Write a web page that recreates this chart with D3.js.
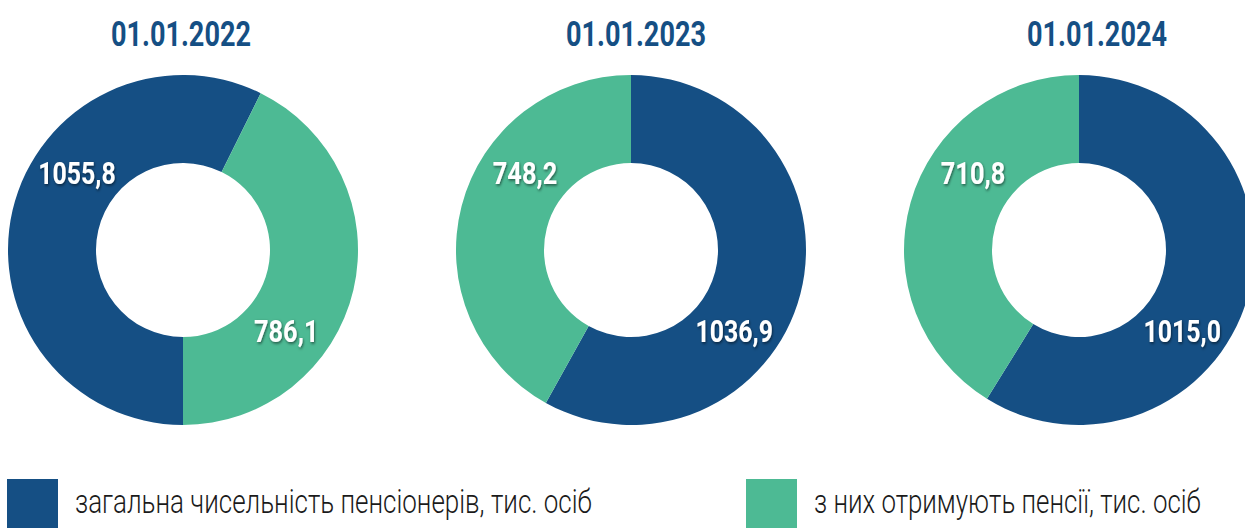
<!DOCTYPE html>
<html>
<head>
<meta charset="utf-8">
<script src="https://cdn.jsdelivr.net/npm/d3@7"></script>
<style>
  html, body { margin: 0; padding: 0; background: #fff; }
  svg { display: block; }
</style>
</head>
<body>
<svg id="chart" width="1245" height="528"></svg>
<script>
// --- Data ---
const DATES = ["01.01.2022", "01.01.2023", "01.01.2024"];
const TOTAL = [1055.8, 1036.9, 1015.0];      // загальна чисельність
const RECEIVING = [786.1, 748.2, 710.8];     // з них отримують пенсії
const SERIES = [
  "загальна чисельність пенсіонерів, тис. осіб",
  "з них отримують пенсії, тис. осіб"
];

// --- Layout ---
const W = 1245, H = 528;
const BLUE = "#154f84";
const GREEN = "#4dba94";
const COLORS = [BLUE, GREEN];
const START_DEG = [180, 0, 0];          // where each donut starts
const TITLE_SHIFT = [-2, 5, 18];
const rOuter = 175, rInner = 87, rLabel = 131;
const cy = 250;
const LABEL_ANGLES = [306, 128];        // upper-left / lower-right slots
const FONT = "Roboto, 'Liberation Sans', sans-serif";

const svg = d3.select("#chart").attr("viewBox", `0 0 ${W} ${H}`);

const defs = svg.append("defs");
defs.append("filter").attr("id", "shadow")
  .attr("x", "-20%").attr("y", "-30%").attr("width", "140%").attr("height", "160%")
  .append("feDropShadow")
  .attr("dx", 1).attr("dy", 1.5).attr("stdDeviation", 1.6)
  .attr("flood-color", "#000").attr("flood-opacity", 0.55);

// squeeze a text horizontally to a target width (condensed look)
function condense(sel, px, py, width) {
  sel.attr("x", 0).attr("y", 0);
  const natural = sel.node().getComputedTextLength();
  const s = width / natural;
  sel.attr("transform", `translate(${px}, ${py}) scale(${s}, 1)`);
}

const x = d3.scalePoint().domain(DATES).range([183, 1079]);
const fmt = v => d3.format(".1f")(v).replace(".", ",");
const rad = deg => deg * Math.PI / 180;

const arcGen = d3.arc().innerRadius(rInner).outerRadius(rOuter);

DATES.forEach((date, i) => {
  const cx = x(date);
  const values = [TOTAL[i], RECEIVING[i]];
  const start = rad(START_DEG[i]);
  const pie = d3.pie().sort(null).value(d => d)
    .startAngle(start).endAngle(start + 2 * Math.PI);
  const slices = pie(values);

  const g = svg.append("g").attr("transform", `translate(${cx}, ${cy})`);

  g.selectAll("path")
    .data(slices).join("path")
    .attr("d", arcGen)
    .attr("fill", (d, j) => COLORS[j]);

  // labels: each value goes in the slot closest to its slice's centroid angle
  g.selectAll("text.val")
    .data(slices).join("text")
    .attr("class", "val")
    .attr("text-anchor", "middle")
    .attr("font-family", FONT)
    .attr("font-weight", 700)
    .attr("font-size", 31)
    .attr("fill", "#fff")
    .attr("filter", "url(#shadow)")
    .text(d => fmt(d.value))
    .each(function(d) {
      const mid = ((d.startAngle + d.endAngle) / 2) * 180 / Math.PI % 360;
      const dist = a => Math.min(Math.abs(mid - a), 360 - Math.abs(mid - a));
      const slot = dist(LABEL_ANGLES[0]) < dist(LABEL_ANGLES[1]) ? LABEL_ANGLES[0] : LABEL_ANGLES[1];
      const a = rad(slot);
      condense(d3.select(this), rLabel * Math.sin(a), -rLabel * Math.cos(a) + 11,
        fmt(d.value).length * 12.9);
    });

  const title = svg.append("text")
    .attr("text-anchor", "middle")
    .attr("font-family", FONT)
    .attr("font-weight", 700)
    .attr("font-size", 36)
    .attr("fill", BLUE)
    .text(date);
  condense(title, cx + TITLE_SHIFT[i], 46, 140);
});

// --- Legend ---
const LEGEND_X = [7, 746];
const LEGEND_W = [517, 387];
SERIES.forEach((name, j) => {
  svg.append("rect")
    .attr("x", LEGEND_X[j]).attr("y", 479)
    .attr("width", 51).attr("height", 51)
    .attr("fill", COLORS[j]);
  const t = svg.append("text")
    .attr("font-family", FONT)
    .attr("font-weight", 300)
    .attr("font-size", 33)
    .attr("fill", "#1a1a1a")
    .text(name);
  condense(t, LEGEND_X[j] + 68, 513, LEGEND_W[j]);
});
</script>
</body>
</html>
